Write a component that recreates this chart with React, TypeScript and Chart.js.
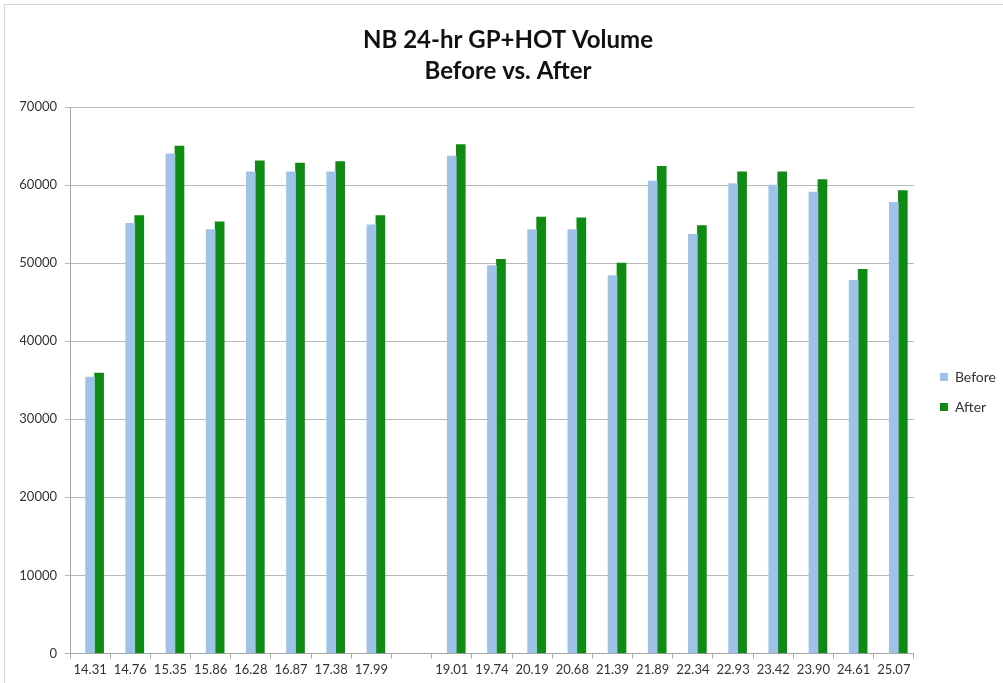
import React, { useEffect, useRef } from 'react';
import { Chart, registerables } from 'chart.js';

Chart.register(...registerables);

const categories = [
  '14.31', '14.76', '15.35', '15.86', '16.28', '16.87', '17.38', '17.99', '',
  '19.01', '19.74', '20.19', '20.68', '21.39', '21.89', '22.34', '22.93', '23.42', '23.90', '24.61', '25.07',
];

const beforeValues = [
  35400, 55100, 64000, 54300, 61700, 61700, 61700, 54900, null,
  63700, 49700, 54300, 54300, 48400, 60500, 53700, 60200, 60000, 59100, 47800, 57800,
];

const afterValues = [
  35900, 56100, 65000, 55300, 63100, 62800, 63000, 56100, null,
  65200, 50500, 55900, 55800, 50000, 62400, 54800, 61700, 61700, 60700, 49200, 59300,
];

const titleLines = ['NB 24-hr GP+HOT Volume', 'Before vs. After'];
const seriesNames = ['Before', 'After'];
const yMin = 0;
const yMax = 70000;
const yStep = 10000;

export default function App() {
  const ref = useRef<HTMLCanvasElement>(null);

  useEffect(() => {
    if (!ref.current) return;
    const legendShift = {
      id: 'legendShift',
      afterLayout(chart: any) {
        const l = chart.legend;
        if (l) {
          l.left += 10;
          l.right += 10;
          l.top += 51;
          l.bottom += 51;
        }
      },
    };
    const chart = new Chart(ref.current, {
      type: 'bar',
      data: {
        labels: categories,
        datasets: [
          { label: 'spacer', data: [], backgroundColor: 'rgba(0,0,0,0)', borderWidth: 0 },
          { label: seriesNames[0], data: beforeValues, backgroundColor: '#9fc3e8', borderWidth: 0 },
          { label: seriesNames[1], data: afterValues, backgroundColor: '#0f8a12', borderWidth: 0 },
        ],
      },
      options: {
        responsive: false,
        animation: false,
        devicePixelRatio: 1,
        datasets: { bar: { barThickness: 9 } },
        layout: { padding: { left: 20, right: 7, top: 0, bottom: 1 } },
        plugins: {
          title: {
            display: true,
            text: titleLines,
            color: '#111',
            font: { family: 'Lato', weight: 'bold', size: 24, lineHeight: 31 / 24 },
            padding: { top: 25, bottom: 20 },
          },
          legend: {
            display: true,
            position: 'right',
            labels: {
              filter: (item: any) => item.datasetIndex !== 0,
              boxWidth: 8,
              boxHeight: 8,
              padding: 16,
              color: '#333',
              font: { family: 'Lato', size: 14 },
            },
          },
          tooltip: { enabled: false },
        },
        scales: {
          x: {
            ticks: {
              color: '#333',
              font: { family: 'Lato', size: 13 },
              padding: 4,
              autoSkip: false,
              maxRotation: 0,
            },
            grid: { display: true, drawOnChartArea: false, tickLength: 5, color: '#a6a6a6', offset: true },
            border: { color: '#a6a6a6' },
          },
          y: {
            min: yMin,
            max: yMax,
            ticks: {
              stepSize: yStep,
              color: '#333',
              font: { family: 'Lato', size: 13 },
              padding: 8,
              callback: (v: any) => String(v),
            },
            grid: { color: '#b8b8b8', tickLength: 5 },
            border: { color: '#a6a6a6' },
            afterFit(scale: any) {
              scale.width = 50;
            },
          },
        },
      },
      plugins: [legendShift],
    });
    return () => chart.destroy();
  }, []);

  return (
    <div style={{ position: 'fixed', left: 0, top: 0, width: 1003, height: 683, overflow: 'hidden', background: '#fff' }}>
      <div style={{ position: 'absolute', left: 4, top: 4, width: 1200, height: 900, border: '1px solid #d6d6d6' }} />
      <canvas ref={ref} width={1003} height={683} style={{ position: 'absolute', left: 0, top: 0, width: 1003, height: 683 }} />
    </div>
  );
}
